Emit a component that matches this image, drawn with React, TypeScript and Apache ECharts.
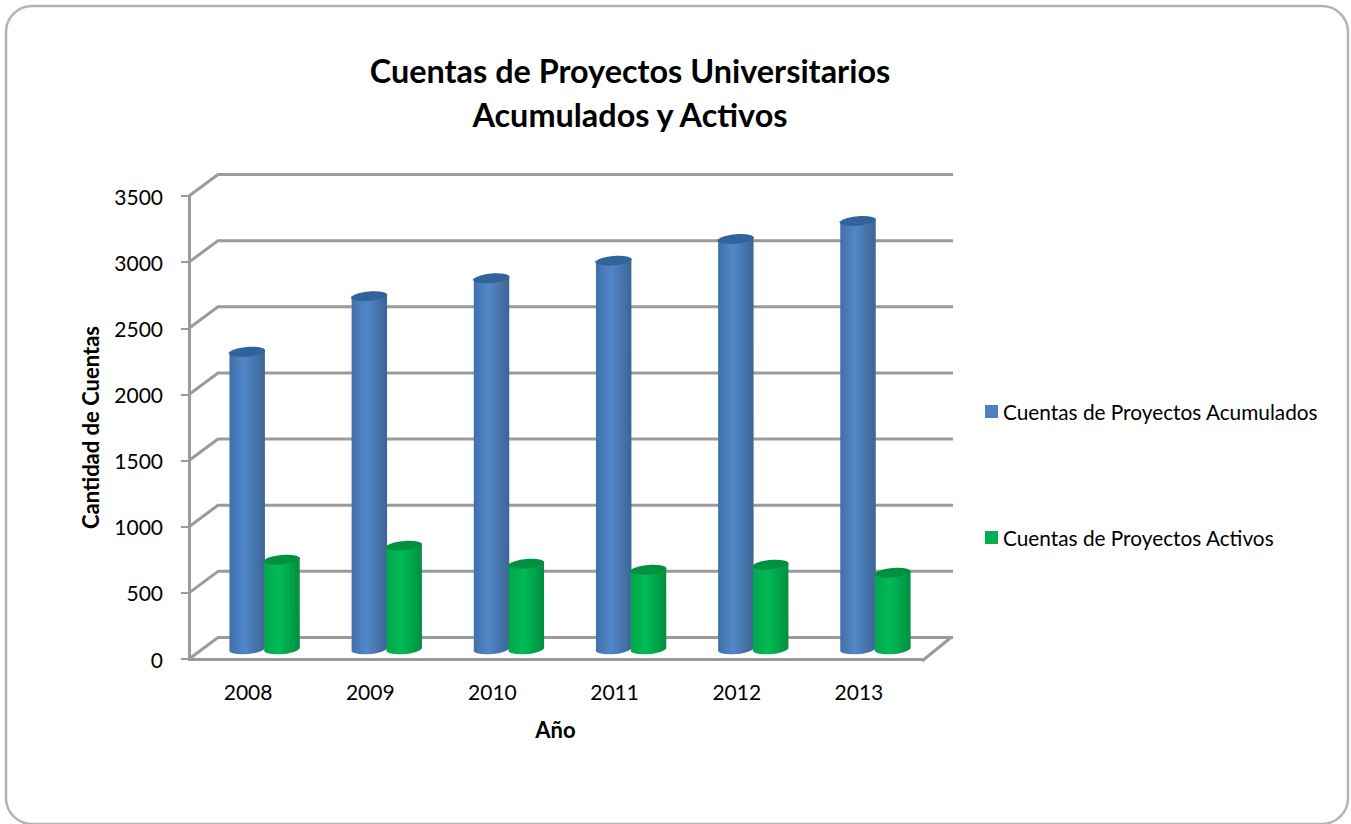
import { useEffect, useRef } from "react";
import * as echarts from "echarts";

const years = ["2008", "2009", "2010", "2011", "2012", "2013"];
const acumulados = [2245, 2665, 2800, 2933, 3098, 3234];
const activos = [673, 779, 642, 597, 635, 575];
const yTicks = [0, 500, 1000, 1500, 2000, 2500, 3000, 3500];
const nameA = "Cuentas de Proyectos Acumulados";
const nameB = "Cuentas de Proyectos Activos";
const titleText = "Cuentas de Proyectos Universitarios\nAcumulados y Activos";
const FONT = "Lato, Carlito, Calibri, sans-serif";
const DEPTH_X = 29;
const DEPTH_Y = -21.5;
const GRID_COLOR = "#9b9b9b";

function cylinder(sign: number, stops: string[], topColor: string) {
  return (params: any, api: any) => {
    const i = api.value(0);
    const v = api.value(1);
    const base = api.coord([i, 0]);
    const top = api.coord([i, v]);
    const band = api.size([1, 0])[0];
    const w = band * 0.29;
    const rx = w / 2;
    const ry = 5;
    const tilt = 0.085;
    const cx = base[0] + DEPTH_X / 2 + sign * (w / 2 - 0.3);
    const yb = base[1] + DEPTH_Y / 2;
    const yt = top[1] + DEPTH_Y / 2;
    const lx = cx - rx;
    const rxp = cx + rx;
    const dy = rx * Math.sin(tilt);
    const rot = (-tilt * 180) / Math.PI;
    const body = `M${lx} ${yt + dy}L${lx} ${yb + dy}A${rx} ${ry} ${rot} 0 0 ${rxp} ${yb - dy}L${rxp} ${yt - dy}Z`;
    const cap = `M${lx} ${yt + dy}A${rx} ${ry} ${rot} 1 1 ${rxp} ${yt - dy}A${rx} ${ry} ${rot} 1 1 ${lx} ${yt + dy}Z`;
    return {
      type: "group",
      children: [
        {
          type: "path",
          shape: { pathData: body },
          style: {
            fill: new echarts.graphic.LinearGradient(0, 0, 1, 0, [
              { offset: 0, color: stops[0] },
              { offset: 0.42, color: stops[1] },
              { offset: 1, color: stops[2] },
            ]),
          },
        },
        { type: "path", shape: { pathData: cap }, style: { fill: topColor } },
      ],
    };
  };
}

function frame(params: any, api: any) {
  const v = api.value(0);
  const cs = params.coordSys;
  const y = api.coord([0, v])[1];
  const x0 = cs.x;
  const children: any[] = [
    {
      type: "polyline",
      shape: {
        points: [
          [x0, y],
          [x0 + DEPTH_X, y + DEPTH_Y],
          [x0 + cs.width + DEPTH_X + 2, y + DEPTH_Y],
        ],
      },
      style: { stroke: GRID_COLOR, lineWidth: 3, fill: "none", lineJoin: "round" },
    },
  ];
  if (v === 0) {
    children.push({
      type: "line",
      shape: {
        x1: x0 + cs.width,
        y1: y + 2,
        x2: x0 + cs.width + DEPTH_X,
        y2: y + DEPTH_Y,
      },
      style: { stroke: GRID_COLOR, lineWidth: 3 },
    });
  }
  return { type: "group", children };
}

export default function App() {
  const ref = useRef<HTMLDivElement>(null);
  useEffect(() => {
    const chart = echarts.init(ref.current!, undefined, { renderer: "svg" });
    chart.setOption({
      animation: false,
      backgroundColor: "#ffffff",
      textStyle: { fontFamily: FONT },
      title: {
        text: titleText,
        left: 625,
        top: 43,
        textAlign: "center",
        textStyle: { fontFamily: FONT, fontSize: 32.4, fontWeight: "bold", color: "#000", lineHeight: 44 },
      },
      graphic: [
        {
          type: "rect",
          z: -1,
          shape: { x: 6, y: 6, width: 1342, height: 818, r: 26 },
          style: { fill: "#fff", stroke: "#b4b4b4", lineWidth: 2.5 },
        },
      ],
      legend: {
        orient: "vertical",
        left: 980,
        top: 396,
        itemWidth: 13,
        itemHeight: 13,
        itemGap: 105,
        icon: "rect",
        data: [nameA, nameB],
        textStyle: { fontFamily: FONT, fontSize: 20.8, color: "#000" },
      },
      grid: { left: 189, top: 196, width: 733, height: 463 },
      xAxis: {
        type: "category",
        data: years,
        offset: 2,
        name: "Año",
        nameLocation: "middle",
        nameGap: 57,
        nameTextStyle: { fontFamily: FONT, fontSize: 22, fontWeight: "bold", color: "#000" },
        axisTick: { show: false },
        axisLine: { lineStyle: { color: GRID_COLOR, width: 3 } },
        axisLabel: { fontFamily: FONT, fontSize: 21, color: "#000", margin: 20, padding: [0, 4, 0, 0] },
      },
      yAxis: {
        type: "value",
        min: 0,
        max: 3500,
        interval: 500,
        name: "Cantidad de Cuentas",
        nameLocation: "middle",
        nameGap: 88,
        nameTextStyle: { fontFamily: FONT, fontSize: 22, fontWeight: "bold", color: "#000" },
        splitLine: { show: false },
        axisLine: { show: true, lineStyle: { color: GRID_COLOR, width: 3 } },
        axisTick: { show: true, length: 8, lineStyle: { color: GRID_COLOR, width: 2 } },
        axisLabel: { fontFamily: FONT, fontSize: 21, color: "#000", margin: 26, formatter: (v: number) => String(v) },
      },
      series: [
        {
          type: "custom",
          name: "frame",
          silent: true,
          clip: false,
          z: 1,
          data: yTicks.map((t) => [t]),
          encode: { y: 0 },
          renderItem: frame,
        },
        {
          type: "custom",
          name: nameA,
          clip: false,
          z: 3,
          itemStyle: { color: "#4f81bd" },
          data: acumulados.map((v, i) => [i, v]),
          encode: { x: 0, y: 1 },
          renderItem: cylinder(-1, ["#3f70aa", "#5287c7", "#3c6595"], "#30629b"),
        },
        {
          type: "custom",
          name: nameB,
          clip: false,
          z: 4,
          itemStyle: { color: "#00b050" },
          data: activos.map((v, i) => [i, v]),
          encode: { x: 0, y: 1 },
          renderItem: cylinder(1, ["#00a64b", "#00bb55", "#008f40"], "#009140"),
        },
      ],
    });
    return () => chart.dispose();
  }, []);
  return <div ref={ref} style={{ position: "fixed", left: 0, top: 0, width: 1351, height: 824 }} />;
}
